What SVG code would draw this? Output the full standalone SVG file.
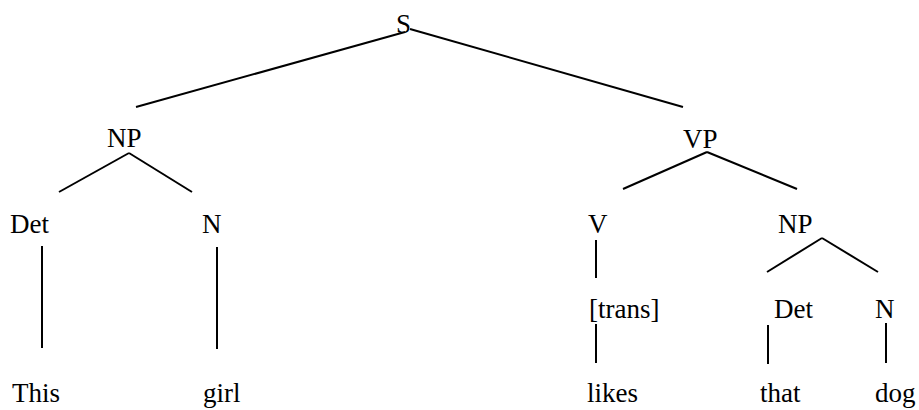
<svg xmlns="http://www.w3.org/2000/svg" width="919" height="410" viewBox="0 0 919 410">
<style>
text{font-family:"Liberation Serif","Times New Roman",serif;font-size:27px;fill:#000}
line{stroke:#000;stroke-width:2;stroke-linecap:butt}
</style>
<rect width="919" height="410" fill="#fff"/>
<g id="connectors">
<line x1="405" y1="32" x2="136" y2="107"/>
<line x1="410" y1="29" x2="683" y2="107"/>
<line x1="129" y1="153" x2="59" y2="192"/>
<line x1="129" y1="153" x2="192" y2="192"/>
<line x1="42" y1="246" x2="42" y2="348"/>
<line x1="217" y1="247" x2="217" y2="349"/>
<line x1="707" y1="152" x2="623" y2="189"/>
<line x1="707" y1="152" x2="797" y2="189"/>
<line x1="596" y1="240" x2="596" y2="278"/>
<line x1="596" y1="324" x2="596" y2="363"/>
<line x1="822" y1="238" x2="767" y2="272"/>
<line x1="822" y1="238" x2="878" y2="272"/>
<line x1="768" y1="325" x2="768" y2="364"/>
<line x1="886" y1="323" x2="886" y2="363"/>
</g>
<g id="S"><text x="396" y="33">S</text></g>
<g id="NP1"><text x="107" y="147">NP</text></g>
<g id="VP"><text x="683" y="148">VP</text></g>
<g id="Det1"><text x="10" y="233">Det</text></g>
<g id="N1"><text x="202" y="233">N</text></g>
<g id="V"><text x="588" y="233">V</text></g>
<g id="NP2"><text x="778" y="233">NP</text></g>
<g id="trans"><text x="589" y="318">[trans]</text></g>
<g id="Det2"><text x="774" y="318">Det</text></g>
<g id="N2"><text x="875" y="318">N</text></g>
<g id="This"><text x="12" y="402">This</text></g>
<g id="girl"><text x="203" y="402">girl</text></g>
<g id="likes"><text x="587" y="402">likes</text></g>
<g id="that"><text x="760" y="402">that</text></g>
<g id="dog"><text x="875" y="402">dog</text></g>
</svg>
